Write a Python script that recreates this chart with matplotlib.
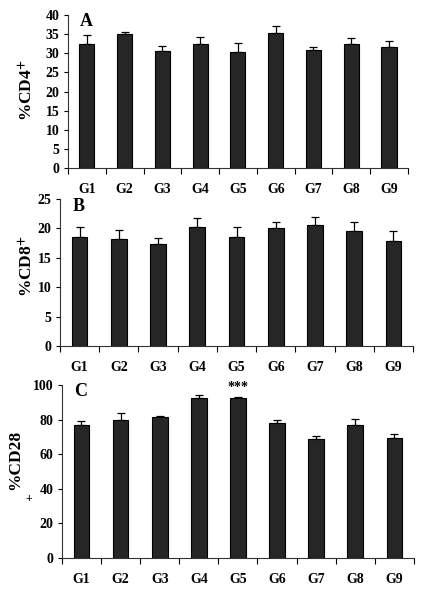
import numpy as np
import matplotlib
matplotlib.use("Agg")
import matplotlib.pyplot as plt

groups = ["G1", "G2", "G3", "G4", "G5", "G6", "G7", "G8", "G9"]

# panel A: %CD4+
cd4_mean = [32.3, 35.1, 30.6, 32.5, 30.2, 35.3, 30.8, 32.5, 31.6]
cd4_err = [2.6, 0.5, 1.3, 1.7, 2.4, 1.7, 0.8, 1.5, 1.5]

# panel B: %CD8+
cd8_mean = [18.45, 18.2, 17.4, 20.3, 18.6, 20.0, 20.6, 19.6, 17.9]
cd8_err = [1.75, 1.6, 0.9, 1.4, 1.6, 1.1, 1.4, 1.5, 1.6]

# panel C: %CD28+
cd28_mean = [76.7, 80.0, 81.3, 92.3, 92.3, 77.9, 68.7, 76.7, 69.6]
cd28_err = [2.7, 3.8, 1.0, 1.9, 1.0, 1.7, 1.9, 3.9, 1.9]

plt.rcParams['font.family'] = ['Liberation Serif', 'DejaVu Serif']
plt.rcParams['mathtext.fontset'] = 'stix'
fs_tick = 10

fig = plt.figure(figsize=(4.33, 5.91), dpi=100)

panels = [
    # (rect, means, errs, ylim, yticks, letter)
    ([0.157, 0.7157, 0.785, 0.2589], cd4_mean, cd4_err, 40, np.arange(0, 41, 5), "A"),
    ([0.1386, 0.4146, 0.8154, 0.2487], cd8_mean, cd8_err, 25, np.arange(0, 26, 5), "B"),
    ([0.143, 0.0558, 0.813, 0.2928], cd28_mean, cd28_err, 100, np.arange(0, 101, 20), "C"),
]

axes = []
for rect, means, errs, ymax, yticks, letter in panels:
    ax = fig.add_axes(rect)
    x = np.arange(len(groups))
    ax.bar(x, means, width=0.4, color="#262626", edgecolor="black", linewidth=0.8, zorder=2)
    ax.errorbar(x, means, yerr=[np.zeros(len(errs)), errs], fmt="none",
                ecolor="black", elinewidth=0.9, capsize=3, capthick=0.9, zorder=1)
    ax.set_xlim(-0.5, len(groups) - 0.5)
    ax.set_ylim(0, ymax)
    ax.set_yticks(yticks)
    ax.set_yticklabels([str(v) for v in yticks], fontsize=fs_tick, fontweight="bold")
    ax.set_xticks(x)
    ax.set_xticklabels(groups, fontsize=fs_tick, fontweight="bold")
    ax.set_xticks(np.arange(-0.5, len(groups)), minor=True)
    ax.tick_params(axis="x", which="major", length=0, pad=11)
    ax.tick_params(axis="x", which="minor", length=4, direction="out", width=0.8)
    ax.tick_params(axis="y", length=3, direction="out", width=0.8, pad=3)
    for side in ["top", "right"]:
        ax.spines[side].set_visible(False)
    for side in ["left", "bottom"]:
        ax.spines[side].set_linewidth(0.8)
        ax.spines[side].set_color("#333333")
    ax.text(0.035, 1.01, letter, transform=ax.transAxes, fontsize=13,
            fontweight="bold", va="top", ha="left")
    axes.append(ax)

ax_a, ax_b, ax_c = axes
ax_a.set_ylabel("%CD4$^{\\mathbf{+}}$", fontsize=12.5, fontweight="bold")
ax_a.yaxis.set_label_coords(-0.091, 0.51)
ax_b.set_ylabel("%CD8$^{\\mathbf{+}}$", fontsize=12.5, fontweight="bold")
ax_b.yaxis.set_label_coords(-0.065, 0.544)
ax_c.set_ylabel("%CD28", fontsize=12.5, fontweight="bold")
ax_c.yaxis.set_label_coords(-0.11, 0.565)
fig.text(29 / 433, 1 - 499 / 591, "+", fontsize=8.5, fontweight="bold", ha="center", va="center")

ax_c.text(4, 95, "***", ha="center", va="bottom", fontsize=10, fontweight="bold", clip_on=False)

fig.savefig("out.png", dpi=100)
